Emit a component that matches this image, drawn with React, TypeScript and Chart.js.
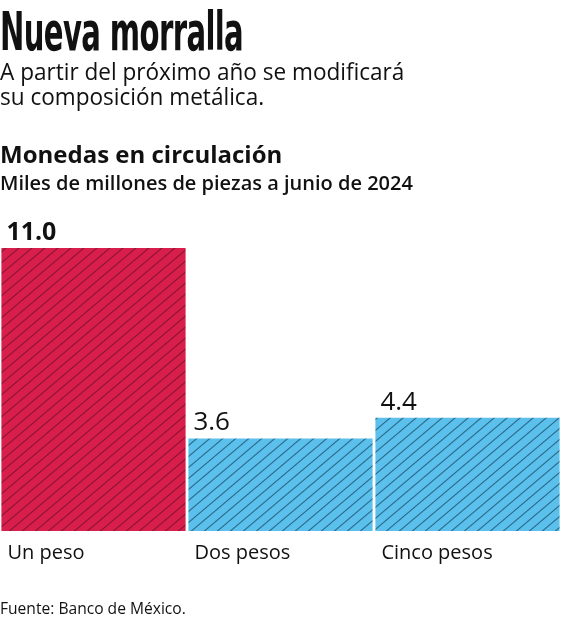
import React, { useEffect, useRef } from "react";
import { Chart, registerables } from "chart.js";

Chart.register(...registerables);

const categories = ["Un peso", "Dos pesos", "Cinco pesos"];
const values = [11.0, 3.6, 4.4];
const valueLabels = ["11.0", "3.6", "4.4"];
const boldValueLabel = [true, false, false];
const fillColors = ["#D81E4B", "#5BC0EB", "#5BC0EB"];
const hatchColors = ["#8C1535", "#2A6A8A", "#2A6A8A"];

const TITLE = "Nueva morralla";
const SUBTITLE_1 = "A partir del próximo año se modificará";
const SUBTITLE_2 = "su composición metálica.";
const CHART_TITLE = "Monedas en circulación";
const CHART_SUBTITLE = "Miles de millones de piezas a junio de 2024";
const SOURCE = "Fuente: Banco de México.";

const FONT = '"Open Sans", "Noto Sans", sans-serif';

function makeHatch(fill: string, line: string) {
  const w = 13;
  const h = 11;
  const c = document.createElement("canvas");
  c.width = w;
  c.height = h;
  const ctx = c.getContext("2d")!;
  ctx.fillStyle = fill;
  ctx.fillRect(0, 0, w, h);
  ctx.strokeStyle = line;
  ctx.lineWidth = 1.1;
  for (const dx of [-w, 0, w]) {
    ctx.beginPath();
    ctx.moveTo(dx - w, 2 * h);
    ctx.lineTo(dx + 2 * w, -h);
    ctx.stroke();
  }
  return ctx.createPattern(c, "repeat")!;
}

const labelPlugin = {
  id: "barLabels",
  afterDatasetsDraw(chart: any) {
    const ctx = chart.ctx;
    const meta = chart.getDatasetMeta(0);
    meta.data.forEach((bar: any, i: number) => {
      const { x, y, width, base } = bar.getProps(["x", "y", "width", "base"], true);
      const left = x - width / 2;
      ctx.save();
      ctx.fillStyle = "#111111";
      ctx.textAlign = "left";
      ctx.textBaseline = "alphabetic";
      ctx.font = `${boldValueLabel[i] ? 700 : 400} ${boldValueLabel[i] ? 25 : 26}px ${FONT}`;
      ctx.fillText(valueLabels[i], left + 5, y - 8);
      ctx.font = `400 20px ${FONT}`;
      ctx.fillText(categories[i], left + 6, base + 28);
      ctx.restore();
    });
  },
};

export default function App() {
  const canvasRef = useRef<HTMLCanvasElement | null>(null);

  useEffect(() => {
    if (!canvasRef.current) return;
    const patterns = fillColors.map((f, i) => makeHatch(f, hatchColors[i]));
    const chart = new Chart(canvasRef.current, {
      type: "bar",
      data: {
        labels: categories,
        datasets: [
          {
            data: values,
            backgroundColor: patterns as any,
            borderWidth: 0,
            barPercentage: 0.985,
            categoryPercentage: 1,
          },
        ],
      },
      options: {
        animation: false,
        responsive: true,
        maintainAspectRatio: false,
        layout: { padding: { top: 248, bottom: 89, left: 0, right: 0 } },
        plugins: { legend: { display: false }, tooltip: { enabled: false } },
        scales: {
          x: { display: false },
          y: { display: false, min: 0, max: 11 },
        },
      },
      plugins: [labelPlugin],
    });
    return () => chart.destroy();
  }, []);

  const base: React.CSSProperties = {
    position: "absolute",
    left: 0,
    margin: 0,
    color: "#111111",
    whiteSpace: "nowrap",
    fontFamily: FONT,
  };

  return (
    <div style={{ position: "absolute", left: 0, top: 0, width: 561, height: 620, background: "#ffffff", overflow: "hidden" }}>
      <div style={{ position: "absolute", left: 0, top: 0, width: 561, height: 620 }}>
        <canvas ref={canvasRef} />
      </div>
      <div
        style={{
          ...base,
          top: 5,
          fontFamily: '"Liberation Sans Narrow", "DejaVu Sans Condensed", sans-serif',
          fontWeight: 700,
          fontSize: 53,
          lineHeight: "53px",
          letterSpacing: -1,
          transform: "scaleX(0.61)",
          transformOrigin: "left top",
        }}
      >
        {TITLE}
      </div>
      <div
        style={{
          ...base,
          top: 58,
          fontSize: 24,
          lineHeight: "25px",
          fontWeight: 400,
          transform: "scaleX(0.94)",
          transformOrigin: "left top",
        }}
      >
        {SUBTITLE_1}
        <br />
        {SUBTITLE_2}
      </div>
      <div style={{ ...base, top: 141, fontSize: 24, lineHeight: "26px", fontWeight: 700 }}>{CHART_TITLE}</div>
      <div style={{ ...base, top: 172, fontSize: 20, lineHeight: "22px", fontWeight: 600 }}>{CHART_SUBTITLE}</div>
      <div style={{ ...base, top: 600, fontSize: 15.6, lineHeight: "17px", fontWeight: 400 }}>{SOURCE}</div>
    </div>
  );
}
